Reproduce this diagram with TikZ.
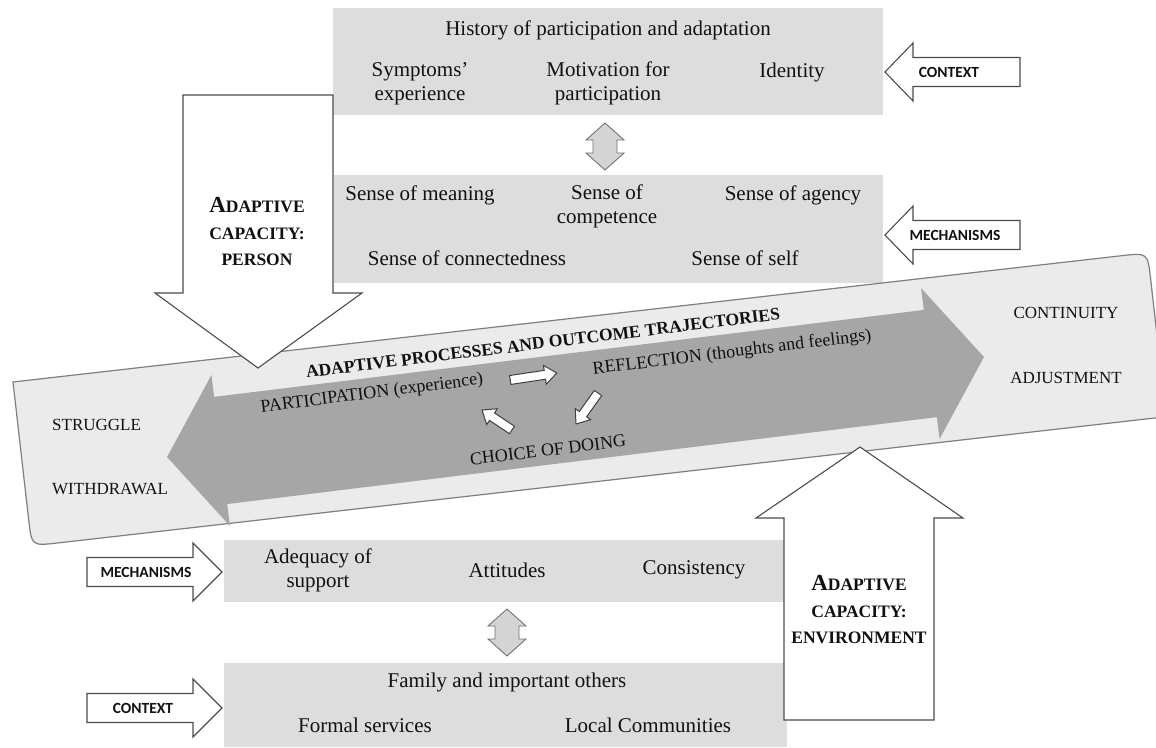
\documentclass[tikz,border=0pt]{standalone}
\usepackage{fontspec}
\setmainfont{Liberation Serif}
\newfontfamily\lblfont{Carlito}
\usetikzlibrary{calc}
\definecolor{boxgray}{HTML}{DDDDDD}
\definecolor{panelgray}{HTML}{EBEBEB}
\definecolor{shaftgray}{HTML}{A6A6A6}
\definecolor{edgegray}{HTML}{7F7F7F}
\definecolor{txt}{HTML}{111111}
\tikzset{
 graybox/.style={fill=boxgray, draw=none},
 panel/.style={fill=panelgray, draw=edgegray, line width=1.2pt},
 bigarrow/.style={fill=shaftgray, draw=none},
 blockarrow/.style={fill=white, draw=black!70, line width=1.1pt, line join=miter},
 dblarrow/.style={fill=black!17, draw=black!55, line width=0.9pt},
 smallarrow/.style={fill=white, draw=black!75, line width=1pt},
 maintext/.style={text=txt, font=\fontsize{21}{24}\selectfont, align=center, inner sep=0pt},
 capstext/.style={text=txt, font=\fontsize{17}{20}\selectfont, inner sep=0pt},
 innertext/.style={text=txt, font=\fontsize{18}{21}\selectfont, inner sep=0pt},
 titletext/.style={text=txt, font=\bfseries\fontsize{17.5}{21}\selectfont, inner sep=0pt},
 sctext/.style={text=txt, font=\bfseries\fontsize{17.5}{26.5}\selectfont, align=center, inner sep=0pt},
 lbltext/.style={text=txt, font=\lblfont\bfseries\fontsize{15.5}{18}\selectfont, inner sep=0pt},
}
\newcommand\capA{{\fontsize{23}{26.5}\selectfont A}}
\newcommand\dblarr[2]{\draw[dblarrow] (#1,{#2-23.5}) -- ({#1+19},{#2-6.5}) -- ({#1+12},{#2-6.5}) -- ({#1+12},{#2+6.5}) -- ({#1+19},{#2+6.5}) -- (#1,{#2+23.5}) -- ({#1-19},{#2+6.5}) -- ({#1-12},{#2+6.5}) -- ({#1-12},{#2-6.5}) -- ({#1-19},{#2-6.5}) -- cycle;}
\newcommand\smallarr[4]{\begin{scope}[shift={(#1,#2)},rotate=#3]\draw[smallarrow] ({-#4/2},-4.5) -- ({#4/2-12},-4.5) -- ({#4/2-12},-9.5) -- ({#4/2},0) -- ({#4/2-12},9.5) -- ({#4/2-12},4.5) -- ({-#4/2},4.5) -- cycle;\end{scope}}
\begin{document}
\begin{tikzpicture}[x=1pt,y=-1pt]
\useasboundingbox (0,0) rectangle (1156,747);
\fill[white] (0,0) rectangle (1156,747);
\clip (0,0) rectangle (1156,747);

% grey boxes
\fill[graybox] (333,8) rectangle (883,115);
\fill[graybox] (334,175) rectangle (883,283);
\fill[graybox] (224,540) rectangle (784,602);
\fill[graybox] (224,663) rectangle (787,747);

% double arrows between boxes
\dblarr{605}{146.5}
\dblarr{507}{632.5}

% central panel
\begin{scope}[shift={(13,382)},rotate=6.5]
\draw[panel] (0,0) -- (1116,0) .. controls (1142,0) .. (1142,26) -- (1142,165) -- (26,165) .. controls (0,165) .. (0,139) -- cycle;
\end{scope}

% big grey double arrow
\begin{scope}[shift={(575.5,407)},rotate=6.98]
\fill[bigarrow] (-411.5,0) -- (-357.5,-76) -- (-357.5,-54) -- (357.5,-54) -- (357.5,-76) -- (411.5,0) -- (357.5,76) -- (357.5,54) -- (-357.5,54) -- (-357.5,76) -- cycle;
\end{scope}

% panel texts
\node[titletext, rotate=7] (title) at (543,343) {ADAPTIVE PROCESSES AND OUTCOME TRAJECTORIES};
\node[innertext, rotate=7.3] (partic) at (372,394) {PARTICIPATION (experience)};
\node[innertext, rotate=7] (reflect) at (732,353) {REFLECTION (thoughts and feelings)};
\node[innertext, rotate=7] (choice) at (548,450) {CHOICE OF DOING};
\node[capstext, anchor=west] (struggle) at (52,425) {STRUGGLE};
\node[capstext, anchor=west] (withdraw) at (52,489) {WITHDRAWAL};
\node[capstext] (contin) at (1066,313) {CONTINUITY};
\node[capstext] (adjust) at (1066,378) {ADJUSTMENT};

% small white cycle arrows
\smallarr{533.5}{376.5}{8.5}{47}
\smallarr{587}{408.5}{234.6}{38}
\smallarr{497}{420}{146.3}{36}

% adaptive capacity arrows
\draw[blockarrow] (183,95) -- (333,95) -- (333,293) -- (362,293) -- (258,368) -- (155,293) -- (183,293) -- cycle;
\node[sctext] (person) at (257,231.5) {\capA DAPTIVE\\CAPACITY:\\PERSON};
\draw[blockarrow] (784,720) -- (934,720) -- (934,518) -- (963,518) -- (860,447) -- (756,518) -- (784,518) -- cycle;
\node[sctext] (envir) at (859,610) {\capA DAPTIVE\\CAPACITY:\\ENVIRONMENT};

% context / mechanisms arrows
\draw[blockarrow] (885,72) -- (913,43) -- (913,57.5) -- (1020,57.5) -- (1020,86.5) -- (913,86.5) -- (913,101) -- cycle;
\node[lbltext] (ctxtop) at (949,72) {CONTEXT};
\draw[blockarrow] (885,235) -- (913,206) -- (913,220.5) -- (1020,220.5) -- (1020,249.5) -- (913,249.5) -- (913,264) -- cycle;
\node[lbltext] (mechtop) at (955,235) {MECHANISMS};
\draw[blockarrow] (222,572) -- (193,543) -- (193,557.5) -- (87,557.5) -- (87,586.5) -- (193,586.5) -- (193,601) -- cycle;
\node[lbltext] (mechbot) at (146,572) {MECHANISMS};
\draw[blockarrow] (222,708) -- (193,679) -- (193,693.5) -- (87,693.5) -- (87,722.5) -- (193,722.5) -- (193,737) -- cycle;
\node[lbltext] (ctxbot) at (143,708) {CONTEXT};

% box texts
\node[maintext] (hist) at (608,30) {History of participation and adaptation};
\node[maintext] (symp) at (420,83.5) {Symptoms’\\experience};
\node[maintext] (motiv) at (608,83.5) {Motivation for\\participation};
\node[maintext] (ident) at (792,72) {Identity};
\node[maintext] (meaning) at (420,195) {Sense of meaning};
\node[maintext] (compet) at (607,206.5) {Sense of\\competence};
\node[maintext] (agency) at (793,195) {Sense of agency};
\node[maintext] (connect) at (467,258) {Sense of connectedness};
\node[maintext] (self) at (745,258) {Sense of self};
\node[maintext] (adequ) at (318,570) {Adequacy of\\support};
\node[maintext] (attit) at (507,570) {Attitudes};
\node[maintext] (consist) at (694,570) {Consistency};
\node[maintext] (family) at (507,682) {Family and important others};
\node[maintext] (formal) at (365,725) {Formal services};
\node[maintext] (local) at (648,725) {Local Communities};
\end{tikzpicture}
\end{document}
